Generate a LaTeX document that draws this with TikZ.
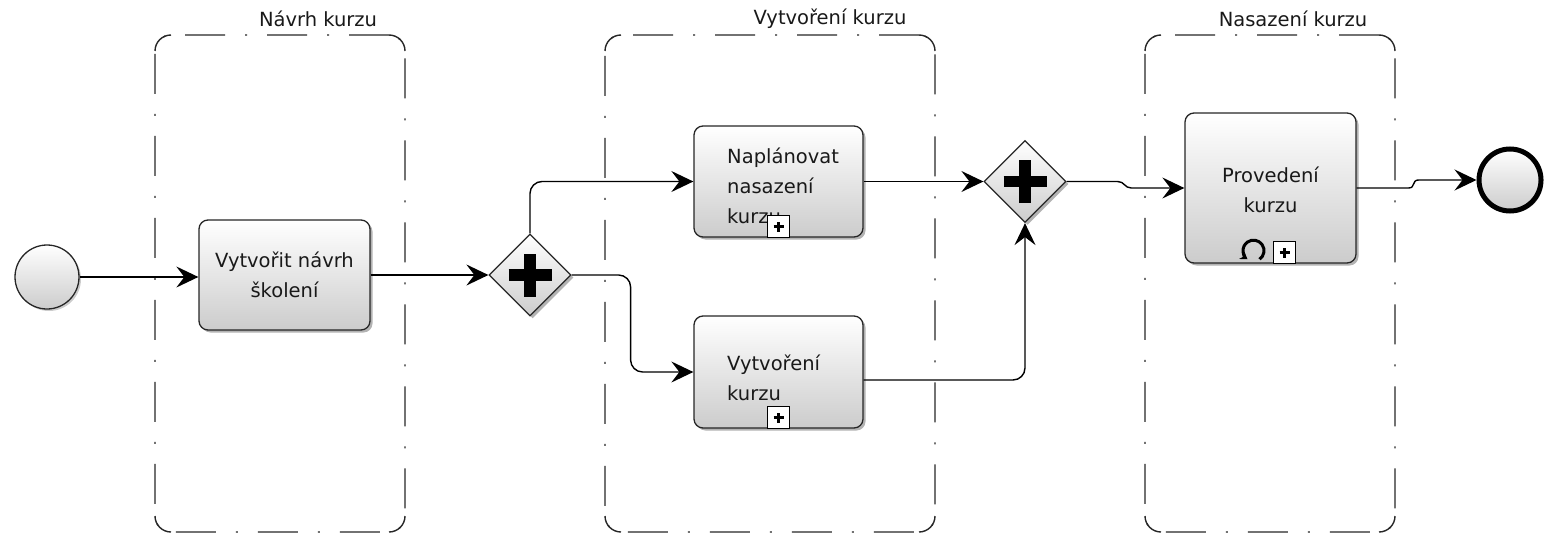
\documentclass[tikz,border=0pt]{standalone}
\usepackage{fontspec}
\setmainfont{DejaVu Sans}
\usetikzlibrary{shapes.geometric,arrows.meta,shadows,calc}
\tikzset{
  lane/.style={draw=black!85, line width=1.4pt, rounded corners=16pt,
    dash pattern=on 40pt off 20pt on 2pt off 20pt, inner sep=0pt, outer sep=0pt},
  lanecorner/.style={draw=black!85, line width=1.4pt},
  lanelabel/.style={text=black!90, inner sep=0pt},
  task/.style={draw=black!85, line width=1.3pt, rounded corners=9pt,
    top color=white, bottom color=black!20, inner sep=0pt,
    minimum width=171pt, minimum height=110pt, text=black!90, align=center,
    drop shadow={shadow xshift=2.5pt, shadow yshift=-2.5pt, fill=black!50, opacity=.6}},
  tasktext/.style={text=black!90, align=left, inner sep=0pt, anchor=west},
  event/.style={circle, draw=black!85, line width=1.3pt, top color=white,
    bottom color=black!20, minimum size=64pt, inner sep=0pt,
    drop shadow={shadow xshift=2pt, shadow yshift=-2pt, fill=black!40, opacity=.5}},
  endevent/.style={event, line width=5pt, draw=black, minimum size=62pt},
  gateway/.style={diamond, aspect=1, draw=black!85, line width=1.2pt,
    top color=white, bottom color=black!20, minimum width=82pt,
    minimum height=82pt, inner sep=0pt,
    drop shadow={shadow xshift=2.5pt, shadow yshift=-2.5pt, fill=black!50, opacity=.6}},
  plusbar/.style={line width=11.5pt, black},
  marker/.style={draw=black, fill=white, line width=1pt, minimum size=22pt, inner sep=0pt},
  flow/.style={line width=1.4pt, black, -{Stealth[length=22pt, width=21pt, inset=8pt]}}
}
\newcommand\gwplus[1]{%
  \draw[plusbar] ([xshift=-21.5pt]#1.center) -- ([xshift=21.5pt]#1.center);
  \draw[plusbar] ([yshift=-21.5pt]#1.center) -- ([yshift=21.5pt]#1.center);}
\newcommand\subplus[1]{%
  \draw[line width=2.8pt] ([xshift=-5pt]#1.center) -- ([xshift=5pt]#1.center);
  \draw[line width=2.8pt] ([yshift=-5pt]#1.center) -- ([yshift=5pt]#1.center);}
% solid rounded corners on top of a dashed lane
\newcommand\lanecorners[1]{%
  \draw[lanecorner] ($(#1.north west)+(0,16)$) arc[start angle=180, end angle=270, radius=16];
  \draw[lanecorner] ($(#1.north east)+(-16,0)$) arc[start angle=270, end angle=360, radius=16];
  \draw[lanecorner] ($(#1.south west)+(0,-16)$) arc[start angle=180, end angle=90, radius=16];
  \draw[lanecorner] ($(#1.south east)+(-16,0)$) arc[start angle=90, end angle=0, radius=16];}
\begin{document}
\begin{tikzpicture}[x=1pt, y=-1pt, font=\fontsize{19.5}{30}\selectfont]
\useasboundingbox (0,0) rectangle (1546,535);

% lanes
\node[lane, minimum width=250pt, minimum height=497pt] (lane1) at (280,283.5) {};
\node[lane, minimum width=330pt, minimum height=497pt] (lane2) at (770,283.5) {};
\node[lane, minimum width=250pt, minimum height=497pt] (lane3) at (1270,283.5) {};
\lanecorners{lane1}
\lanecorners{lane2}
\lanecorners{lane3}
\node[lanelabel] (lab1) at (318,19) {Návrh kurzu};
\node[lanelabel] (lab2) at (830,19) {Vytvoření kurzu};
\node[lanelabel] (lab3) at (1293,19) {Nasazení kurzu};

% flow elements
\node[event] (start) at (47,277) {};
\node[task] (t1) at (284.5,275) {Vytvořit návrh\\školení};
\node[gateway] (g1) at (530,275) {};
\gwplus{g1}
\node[task, minimum width=169pt, minimum height=111pt] (nap) at (778.5,181.5) {};
\node[tasktext] (naptext) at (727,186) {Naplánovat\\nasazení\\kurzu};
\node[marker] (napm) at ($(nap.south)+(0,-11)$) {};
\subplus{napm}
\node[task, minimum width=169pt, minimum height=112pt] (vyt) at (778.5,372) {};
\node[tasktext] (vyttext) at (727,378) {Vytvoření\\kurzu};
\node[marker] (vytm) at ($(vyt.south)+(0,-11)$) {};
\subplus{vytm}
\node[gateway] (g2) at (1025,181.5) {};
\gwplus{g2}
\node[task, minimum height=150pt] (prov) at (1270.5,188) {};
\node[text=black!90, align=center, inner sep=0pt] (provtext) at (1270.5,190) {Provedení\\kurzu};
\node[marker] (provm) at ($(prov.south)+(14,-11)$) {};
\subplus{provm}
\coordinate (loopc) at ($(prov.south)+(-17,-13)$);
\draw[line width=3pt, -{Stealth[length=7pt, width=9pt]}]
  ($(loopc)+(55:10.5)$) arc[start angle=55, end angle=-235, radius=10.5];
\node[endevent] (end) at (1510,180) {};

% sequence flows
\draw[flow] (start.east) -- (t1.west |- start.east);
\draw[flow] (t1.east) -- (g1.west);
\draw[flow, rounded corners=12pt] (g1.north) |- (nap.west);
\draw[flow, rounded corners=12pt] (g1.east) -- ($(g1.east)+(59,0)$) |- (vyt.west);
\draw[flow] (nap.east) -- (g2.west);
\draw[flow, rounded corners=12pt] ($(vyt.east)+(0,8)$) -| (g2.south);
\draw[flow] (g2.east) -- ($(g2.east)+(51,0)$)
  .. controls +(7,0) and +(-7,0) .. ($(prov.west)+(-53,0)$) -- (prov.west);
\draw[flow] (prov.east) -- ($(prov.east)+(52,0)$)
  .. controls +(7,0) and +(-7,0) .. ($(end.west)+(-58,0)$) -- (end.west);
\end{tikzpicture}
\end{document}
